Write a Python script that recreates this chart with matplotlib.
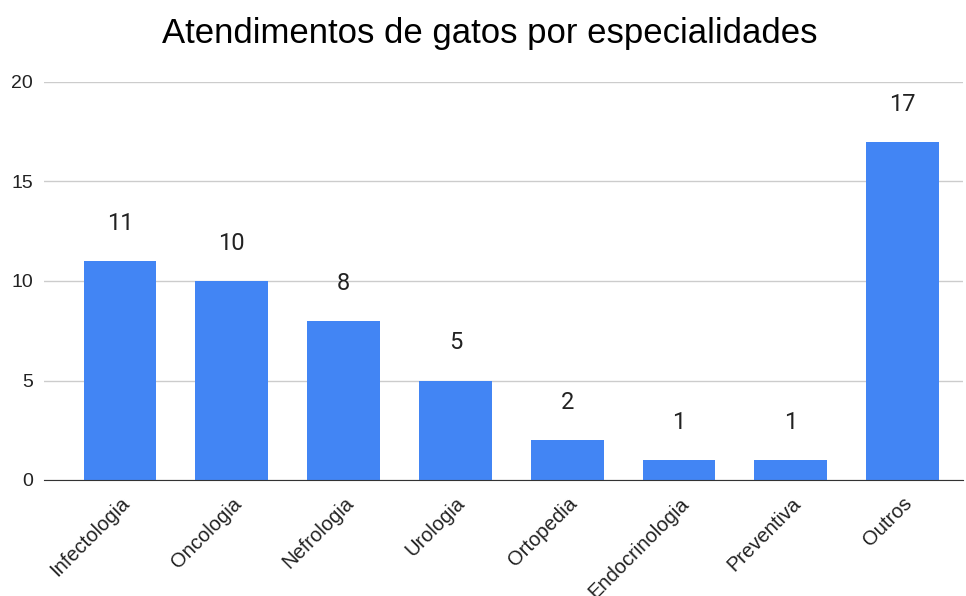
import matplotlib.pyplot as plt

especialidades = ["Infectologia", "Oncologia", "Nefrologia", "Urologia",
                  "Ortopedia", "Endocrinologia", "Preventiva", "Outros"]
atendimentos = [11, 10, 8, 5, 2, 1, 1, 17]
yticks = [0, 5, 10, 15, 20]

plt.rcParams['font.family'] = ['Liberation Sans', 'DejaVu Sans']

fig = plt.figure(figsize=(9.66, 5.96), dpi=100)
ax = fig.add_axes([44 / 966, 1 - 480 / 596, (963 - 44) / 966, (480 - 82) / 596])

x = list(range(len(especialidades)))
bars = ax.bar(x, atendimentos, width=0.65, color="#4285f4", zorder=3)

# valores acima de cada barra
for xi, v in zip(x, atendimentos):
    ax.annotate(str(v), (xi, v), xytext=(0, 27), textcoords="offset points",
                ha="center", va="center", fontsize=17, color="#222222",
                family=["Roboto", "DejaVu Sans"])

ax.set_ylim(0, 20)
ax.set_xlim(-0.68, 7.54)
ax.set_yticks(yticks)
ax.yaxis.grid(True, color="#cccccc", linewidth=1, zorder=0)
ax.tick_params(axis="y", length=0, labelsize=14, labelcolor="#222222", pad=8)
ax.tick_params(axis="x", length=0, labelsize=14.5, labelcolor="#222222", pad=10)

ax.set_xticks(x)
ax.set_xticklabels(especialidades, rotation=45, ha="right", rotation_mode="anchor")

for side in ["top", "right", "left"]:
    ax.spines[side].set_visible(False)
ax.spines["bottom"].set_color("#333333")
ax.spines["bottom"].set_zorder(4)

fig.text(0.507, 1 - 33 / 596, "Atendimentos de gatos por especialidades",
         ha="center", va="center", fontsize=25, color="#000000")

fig.savefig("out.png", dpi=100)
